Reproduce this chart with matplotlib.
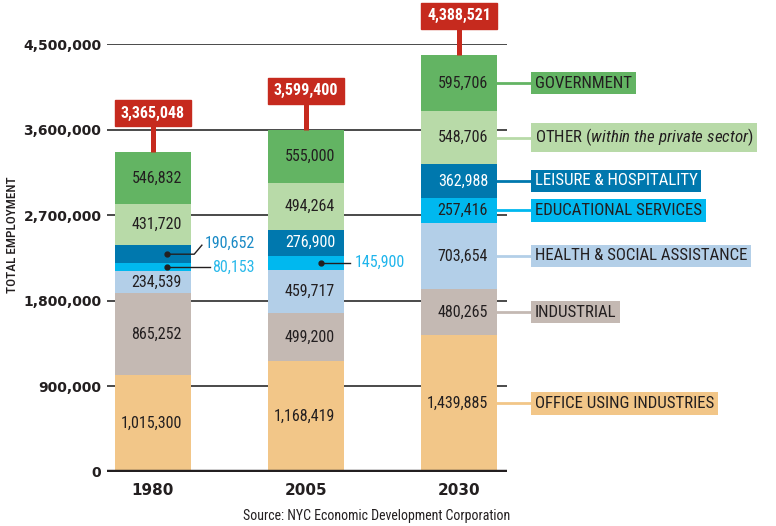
import matplotlib
matplotlib.use("Agg")
import matplotlib.pyplot as plt
from matplotlib import font_manager as fm
from matplotlib.patches import Rectangle
import numpy as np

# data, bottom to top of each stack
years = ["1980", "2005", "2030"]
office = [1015300, 1168419, 1439885]
industrial = [865252, 499200, 480265]
health = [234539, 459717, 703654]
educational = [80153, 145900, 257416]
leisure = [190652, 276900, 362988]
other = [431720, 494264, 548706]
government = [546832, 555000, 595706]
totals = [3365048, 3599400, 4388521]

sectors = ["OFFICE USING INDUSTRIES", "INDUSTRIAL", "HEALTH & SOCIAL ASSISTANCE",
           "EDUCATIONAL SERVICES", "LEISURE & HOSPITALITY",
           "OTHER", "GOVERNMENT"]
colors = ["#f2c688", "#c4b9b3", "#b3cfe8", "#00b8ef", "#0078ae", "#b8daa8", "#63b463"]
txtcol = ["#231f20"] * 4 + ["white"] + ["#231f20"] * 2
yticks = [0, 900000, 1800000, 2700000, 3600000, 4500000]

# pick a narrow font if there is one
names = {f.name for f in fm.fontManager.ttflist}
COND = "DejaVu Sans"
for n in ["Liberation Sans Narrow", "DejaVu Sans Condensed", "Roboto Condensed"]:
    if n in names:
        COND = n
        break
plt.rcParams["mathtext.fontset"] = "custom"
plt.rcParams["mathtext.rm"] = COND
plt.rcParams["mathtext.it"] = COND + ":italic"

DARK = "#231f20"
RED = "#c62a1e"

fig = plt.figure(figsize=(7.76, 5.26), dpi=100)
ax = fig.add_axes([107 / 776, 1 - 471.8 / 526, 400 / 776, 427.5 / 526])
ax.set_xlim(-0.30, 2.314)
ax.set_ylim(0, 4500000)
for s in ax.spines.values():
    s.set_visible(False)

px = 900000 / 85.5   # data units per pixel, vertical
x = np.arange(len(years))
w = 0.5

# grid
for t in yticks[1:]:
    ax.axhline(t, color="#2b2b2b", lw=1.2, zorder=1)
ax.axhline(0, color=DARK, lw=3.2, zorder=4)

series = [office, industrial, health, educational, leisure, other, government]
bottom = np.zeros(3)
centers = []
for vals, c, tc in zip(series, colors, txtcol):
    vals = np.array(vals, dtype=float)
    ax.bar(x, vals, w, bottom=bottom, color=c, zorder=2)
    mid = bottom + vals / 2
    centers.append(mid)
    for i in range(3):
        # the small ones get callouts instead
        if (vals[i] < 200000 and i < 2) or (i == 1 and c == colors[3]):
            continue
        ax.text(x[i] + 0.19, mid[i], f"{int(vals[i]):,}", ha="right", va="center",
                fontsize=11.5, color=tc, family=COND, zorder=5)
    bottom = bottom + vals

# totals in red boxes
gap = 26 * px
bh = 26 * px
for i in range(3):
    ax.plot([x[i], x[i]], [totals[i], totals[i] + gap], color=RED, lw=3.6,
            clip_on=False, zorder=3, solid_capstyle="butt")
    ax.add_patch(Rectangle((x[i] - w / 2, totals[i] + gap), w, bh, color=RED,
                           clip_on=False, zorder=3))
    ax.text(x[i], totals[i] + gap + bh / 2, f"{totals[i]:,}", ha="center", va="center",
            color="white", fontsize=11.5, fontweight="bold", family=COND, clip_on=False)

# callouts for thin segments
ed, le = centers[3], centers[4]
ax.plot([0.09, 0.27, 0.32], [le[0], le[0], le[0] + 95000], color=DARK, lw=1, zorder=5)
ax.plot(0.09, le[0], "o", color=DARK, ms=3.5, zorder=5)
ax.text(0.34, le[0] + 110000, f"{leisure[0]:,}", ha="left", va="center",
        fontsize=11.5, color="#1a8ac6", family=COND)
ax.plot([0.09, 0.37], [ed[0], ed[0]], color=DARK, lw=1, zorder=5)
ax.plot(0.09, ed[0], "o", color=DARK, ms=3.5, zorder=5)
ax.text(0.39, ed[0], f"{educational[0]:,}", ha="left", va="center",
        fontsize=11.5, color="#29b9ea", family=COND)
ax.plot([1.10, 1.29], [ed[1], ed[1]], color=DARK, lw=1, zorder=5)
ax.plot(1.10, ed[1], "o", color=DARK, ms=3.5, zorder=5)
ax.text(1.32, ed[1], f"{educational[1]:,}", ha="left", va="center",
        fontsize=11.5, color="#1fb5ec", family=COND)

# legend labels on the right of the 2030 bar
for k, name in enumerate(sectors):
    yc = centers[k][2]
    ax.plot([2 + w / 2, 2.471], [yc, yc], color=colors[k], lw=2, clip_on=False, zorder=1)
    label = name
    if name == "OTHER":
        label = r"OTHER $\it{(within\ the\ private\ sector)}$"
    ax.text(2.471 + 0.025, yc, label, ha="left", va="center", fontsize=12.2,
            color=txtcol[k], family=COND, clip_on=False,
            bbox=dict(boxstyle="square,pad=0.22", fc=colors[k], ec="none"))

# axes labels
ax.set_yticks(yticks)
ax.set_yticklabels([f"{t:,}" for t in yticks], fontweight="bold", fontsize=10, color=DARK)
ax.set_xticks(x)
ax.set_xticklabels(years, fontweight="bold", fontsize=11, color=DARK)
ax.tick_params(axis="y", length=0, pad=4)
ax.tick_params(axis="x", length=0, pad=8)

fig.text(13 / 776, 1 - 235 / 526, "TOTAL EMPLOYMENT", rotation=90, ha="center",
         va="center", fontsize=9.5, color=DARK, family=COND, fontweight="medium")
fig.text(510 / 776, 1 - 516 / 526, "Source: NYC Economic Development Corporation",
         ha="right", va="center", fontsize=10, color=DARK, family=COND)

fig.savefig("out.png", dpi=100)
